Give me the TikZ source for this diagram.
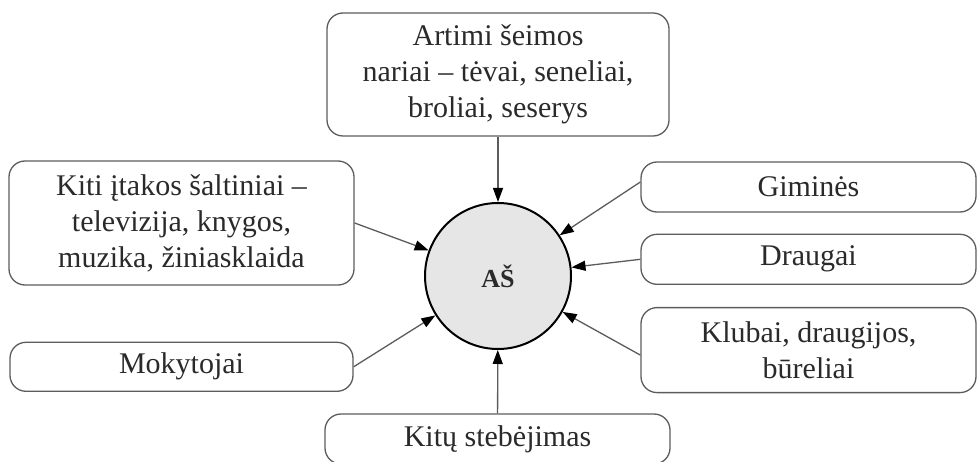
\documentclass[tikz,border=0pt]{standalone}
\usepackage{fontspec}
\setmainfont{Liberation Serif}
\usepackage{xcolor}
\usepackage{tikz}
\usetikzlibrary{arrows.meta,positioning}
\definecolor{krastas}{HTML}{5C5C5C}
\definecolor{centrospalva}{HTML}{E6E6E6}
\definecolor{tekstas}{HTML}{2A2A2A}
\tikzset{
    blokas/.style={
        rectangle,
        draw=krastas,
        text=tekstas,
        line width=1.3pt,
        rounded corners=16pt,
        align=center,
        inner sep=2pt
    },
    siauras/.style={blokas, minimum width=335pt, minimum height=50pt},
    centras/.style={
        circle,
        draw=black,
        text=tekstas,
        line width=2pt,
        fill=centrospalva,
        minimum size=146pt,
        font=\bfseries\fontsize{26}{30}\selectfont
    },
    srautas/.style={-{Triangle[length=14pt, width=10pt, color=black]}, draw=krastas, line width=1.3pt}
}

\begin{document}
\begin{tikzpicture}[
        x=1pt, y=-1pt,
        every node/.style={font=\fontsize{30}{36}\selectfont}
    ]
        \useasboundingbox (0,0) rectangle (979,462);
        \node[centras] (as) at (498,276) {AŠ};
        \node[blokas, minimum width=342pt, minimum height=123pt] (artimi) at (498,74.5) {Artimi šeimos\\nariai – tėvai, seneliai,\\broliai, seserys};
        \node[blokas, minimum width=345pt, minimum height=124pt] (kiti) at (181.5,223) {Kiti įtakos šaltiniai –\\televizija, knygos,\\muzika, žiniasklaida};
        \node[blokas, minimum width=343pt, minimum height=49pt, below=56pt of kiti] (mokytojai) {Mokytojai};
        \node[siauras] (gimines) at (808.5,187) {Giminės};
        \node[siauras, below=21pt of gimines] (draugai) {Draugai};
        \node[siauras, minimum height=85pt, below=22pt of draugai] (klubai) {Klubai, draugijos,\\būreliai};
        \node[blokas, minimum width=345pt, minimum height=50pt] (stebejimas) at (497.5,439) {Kitų stebėjimas};

        \draw[srautas] (artimi) -- (as);
        \draw[srautas] (stebejimas) -- (as);
        \draw[srautas] (kiti.east) -- (as);
        \draw[srautas] (mokytojai.east) -- (as);
        \draw[srautas] ([yshift=5pt]gimines.west) -- (as);
        \draw[srautas] (draugai.west) -- (as);
        \draw[srautas] ([yshift=-5pt]klubai.west) -- (as);
    \end{tikzpicture}
\end{document}
